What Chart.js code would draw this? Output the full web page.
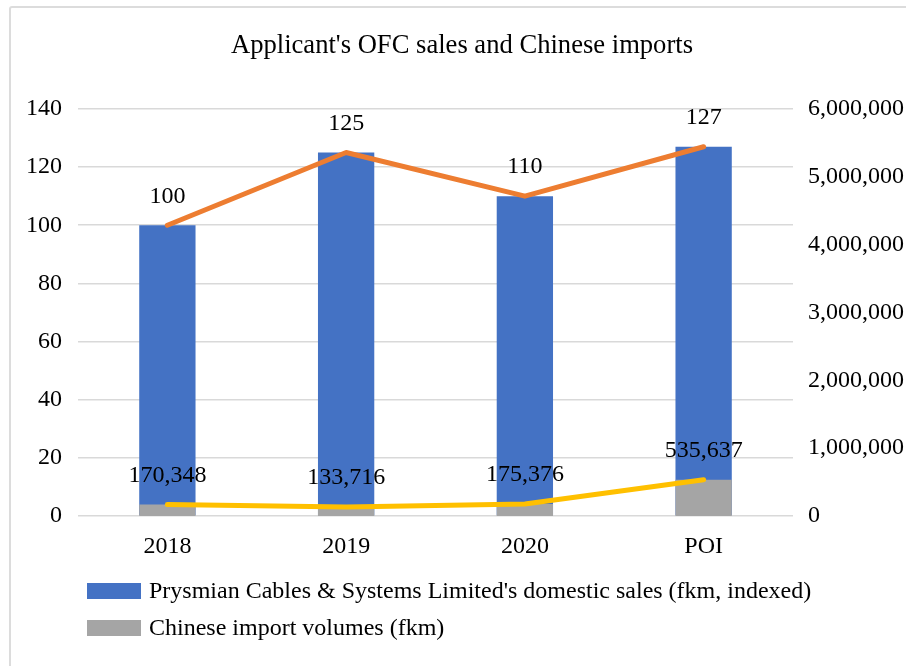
<!DOCTYPE html>
<html>
<head>
<meta charset="utf-8">
<title>Applicant's OFC sales and Chinese imports</title>
<script src="https://cdn.jsdelivr.net/npm/chart.js@4.4.0/dist/chart.umd.min.js"></script>
<style>
  html, body { margin: 0; padding: 0; background: #fff; }
  #wrap { position: relative; width: 906px; height: 666px; overflow: hidden; }
  #frame { position: absolute; left: 9px; top: 6px; width: 1000px; height: 1000px;
           border: 2px solid #dcdcdc; border-radius: 3px; }
  #chart { position: absolute; left: 0; top: 0; }
  #legend { position: absolute; left: 87px; top: 572px; color: #000;
            font-family: "Liberation Serif", "Times New Roman", serif; font-size: 24px; }
  .item { display: flex; align-items: center; height: 37px; white-space: nowrap; }
  .swatch { width: 54px; height: 16px; margin-right: 8px; }
</style>
</head>
<body>
<div id="wrap">
  <div id="frame"></div>
  <canvas id="chart" width="906" height="666"></canvas>
  <div id="legend"></div>
</div>
<script>
// Chart data
const periods = ['2018', '2019', '2020', 'POI'];
const salesIndexed = [100, 125, 110, 127];
const importVolumes = [170348, 133716, 175376, 535637];

const serif = '"Liberation Serif", "Times New Roman", serif';
const fmt = v => v.toLocaleString('en-US');

// Value labels above each bar
const barLabels = {
  id: 'barLabels',
  afterDatasetsDraw(chart) {
    const ctx = chart.ctx;
    ctx.save();
    ctx.font = '24px ' + serif;
    ctx.fillStyle = '#000';
    ctx.textAlign = 'center';
    ctx.textBaseline = 'middle';
    chart.data.datasets.forEach((ds, i) => {
      if (ds.type !== 'bar') return;
      chart.getDatasetMeta(i).data.forEach((bar, j) => {
        ctx.fillText(fmt(ds.data[j]), bar.x, bar.y - 29);
      });
    });
    ctx.restore();
  }
};

const ctx = document.getElementById('chart').getContext('2d');
const chart = new Chart(ctx, {
  data: {
    labels: periods,
    datasets: [
      {
        type: 'line',
        label: 'Sales trend',
        data: salesIndexed,
        yAxisID: 'y',
        borderColor: '#ED7D31',
        borderWidth: 5,
        borderCapStyle: 'round',
        borderJoinStyle: 'round',
        pointRadius: 0,
        order: 0
      },
      {
        type: 'line',
        label: 'Import trend',
        data: importVolumes,
        yAxisID: 'y1',
        borderColor: '#FFC000',
        borderWidth: 5,
        borderCapStyle: 'round',
        borderJoinStyle: 'round',
        pointRadius: 0,
        order: 1
      },
      {
        type: 'bar',
        label: "Prysmian Cables & Systems Limited's domestic sales (fkm, indexed)",
        data: salesIndexed,
        yAxisID: 'y',
        backgroundColor: '#4472C4',
        grouped: false,
        barPercentage: 0.315,
        categoryPercentage: 1,
        order: 3
      },
      {
        type: 'bar',
        label: 'Chinese import volumes (fkm)',
        data: importVolumes,
        yAxisID: 'y1',
        backgroundColor: '#A5A5A5',
        grouped: false,
        barPercentage: 0.315,
        categoryPercentage: 1,
        order: 2
      }
    ]
  },
  options: {
    responsive: false,
    animation: false,
    layout: { padding: { top: 15, left: 18, right: 0, bottom: 100 } },
    plugins: {
      legend: { display: false },
      tooltip: { enabled: false },
      title: {
        display: true,
        text: "Applicant's OFC sales and Chinese imports",
        color: '#000',
        font: { family: serif, size: 26.6, weight: 'normal' },
        padding: { top: 15, bottom: 47 }
      }
    },
    scales: {
      x: {
        grid: { display: false, drawTicks: false },
        border: { display: false },
        ticks: { color: '#000', padding: 16, font: { family: serif, size: 24 } },
        afterFit: s => { s.height = 50; }
      },
      y: {
        position: 'left',
        min: 0,
        max: 140,
        ticks: { stepSize: 20, color: '#000', padding: 16, font: { family: serif, size: 24 } },
        grid: { color: '#d9d9d9', lineWidth: 1.5, drawTicks: false },
        border: { display: false },
        afterFit: s => { s.width = 60; }
      },
      y1: {
        position: 'right',
        min: 0,
        max: 6000000,
        ticks: { stepSize: 1000000, color: '#000', padding: 15, font: { family: serif, size: 24 },
                 callback: v => fmt(v) },
        grid: { display: false, drawTicks: false },
        border: { display: false },
        afterFit: s => { s.width = 113; }
      }
    }
  },
  plugins: [barLabels]
});

// Legend for the bar series, one per row
const legend = document.getElementById('legend');
chart.data.datasets.filter(d => d.type === 'bar').forEach(d => {
  const row = document.createElement('div');
  row.className = 'item';
  row.innerHTML = '<span class="swatch" style="background:' + d.backgroundColor + '"></span>';
  row.appendChild(document.createTextNode(d.label));
  legend.appendChild(row);
});
</script>
</body>
</html>
